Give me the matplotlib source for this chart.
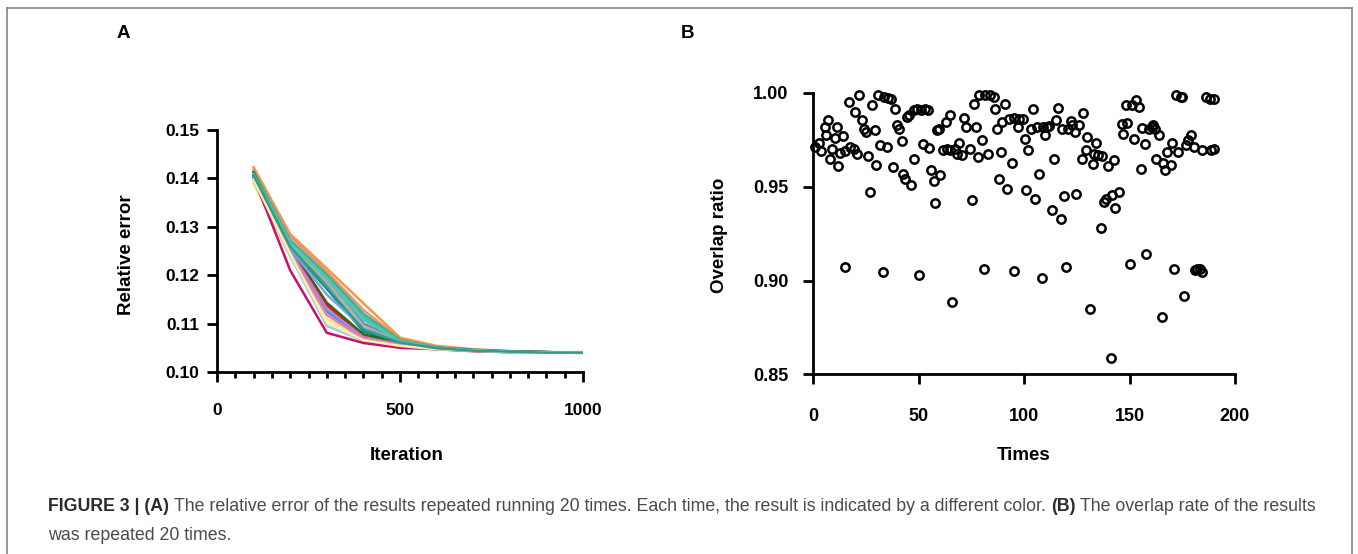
import matplotlib
matplotlib.use("Agg")
import matplotlib.pyplot as plt
from matplotlib.ticker import MultipleLocator, FormatStrFormatter
from matplotlib.lines import Line2D

plt.rcParams['font.family'] = ['Liberation Sans', 'DejaVu Sans']

# ---------------- Panel A data ----------------
iterations = [100, 200, 300, 400, 500, 600, 700, 800, 900, 1000]
run_01 = [0.1423, 0.1285, 0.1214, 0.1142, 0.1071, 0.1054, 0.1047, 0.1043, 0.1041, 0.1039]
run_02 = [0.1418, 0.1280, 0.1207, 0.1128, 0.1068, 0.1052, 0.1046, 0.1043, 0.1041, 0.1040]
run_03 = [0.1414, 0.1272, 0.1201, 0.1120, 0.1066, 0.1051, 0.1046, 0.1043, 0.1041, 0.1041]
run_04 = [0.1411, 0.1268, 0.1196, 0.1114, 0.1064, 0.1050, 0.1045, 0.1042, 0.1041, 0.1040]
run_05 = [0.1408, 0.1263, 0.1191, 0.1108, 0.1062, 0.1050, 0.1045, 0.1042, 0.1041, 0.1040]
run_06 = [0.1406, 0.1260, 0.1184, 0.1100, 0.1061, 0.1049, 0.1045, 0.1042, 0.1041, 0.1040]
run_07 = [0.1404, 0.1257, 0.1172, 0.1084, 0.1060, 0.1049, 0.1044, 0.1042, 0.1040, 0.1040]
run_08 = [0.1407, 0.1262, 0.1186, 0.1096, 0.1062, 0.1050, 0.1045, 0.1042, 0.1041, 0.1040]
run_09 = [0.1412, 0.1258, 0.1143, 0.1078, 0.1060, 0.1050, 0.1045, 0.1042, 0.1041, 0.1040]
run_10 = [0.1405, 0.1252, 0.1138, 0.1073, 0.1058, 0.1049, 0.1045, 0.1042, 0.1041, 0.1040]
run_11 = [0.1398, 0.1248, 0.1125, 0.1070, 0.1057, 0.1048, 0.1044, 0.1041, 0.1040, 0.1040]
run_12 = [0.1401, 0.1250, 0.1131, 0.1072, 0.1057, 0.1048, 0.1044, 0.1041, 0.1040, 0.1040]
run_13 = [0.1389, 0.1238, 0.1110, 0.1068, 0.1055, 0.1048, 0.1044, 0.1041, 0.1040, 0.1040]
run_14 = [0.1395, 0.1240, 0.1095, 0.1065, 0.1054, 0.1047, 0.1044, 0.1041, 0.1040, 0.1040]
run_15 = [0.1402, 0.1210, 0.1081, 0.1060, 0.1050, 0.1047, 0.1043, 0.1041, 0.1040, 0.1040]
run_16 = [0.1403, 0.1255, 0.1160, 0.1090, 0.1061, 0.1049, 0.1044, 0.1042, 0.1040, 0.1040]
run_17 = [0.1409, 0.1266, 0.1193, 0.1110, 0.1063, 0.1050, 0.1045, 0.1042, 0.1041, 0.1040]
run_18 = [0.1400, 0.1246, 0.1118, 0.1069, 0.1056, 0.1048, 0.1044, 0.1041, 0.1040, 0.1040]
run_19 = [0.1397, 0.1244, 0.1102, 0.1066, 0.1054, 0.1047, 0.1044, 0.1041, 0.1040, 0.1040]
run_20 = [0.1406, 0.1259, 0.1176, 0.1088, 0.1061, 0.1049, 0.1044, 0.1042, 0.1040, 0.1040]

runs = [run_01, run_02, run_03, run_04, run_05, run_06, run_07, run_08, run_09, run_10,
        run_11, run_12, run_13, run_14, run_15, run_16, run_17, run_18, run_19, run_20]
run_colors = ['#F39C3C', '#EE8A80', '#3CB371', '#3FC3A2', '#5B9BE6', '#3A86C8', '#1F7A8C',
              '#B9AE94', '#0A7D0A', '#E8101A', '#4A90E2', '#9B8FD6', '#F5E68A', '#A3C6F0',
              '#C8106A', '#6FA8DC', '#52C7B8', '#E87DB5', '#F7F0A8', '#2E9E8A']

# ---------------- Panel B data ----------------
times = [1.1, 3.0, 3.9, 5.5, 6.2, 7.1, 8.2, 9.0, 10.3, 11.4, 11.8, 13.0, 14.1, 15.0, 15.3,
         16.9, 17.7, 19.3, 20.1, 20.9, 22.0, 23.2, 24.2, 25.3, 26.1, 27.2, 28.0, 29.2, 29.9,
         30.8, 31.9, 33.0, 33.5, 35.1, 35.6, 37.1, 37.8, 38.7, 39.8, 40.9, 42.2, 42.5, 43.5,
         44.6, 45.7, 46.6, 47.7, 47.7, 49.3, 50.1, 51.4, 52.0, 53.3, 54.5, 54.9, 56.1, 57.2,
         58.0, 58.8, 59.9, 60.4, 61.5, 63.1, 63.6, 65.1, 65.1, 66.0, 67.2, 68.3, 69.1, 70.4,
         71.5, 72.6, 74.2, 75.4, 76.2, 77.3, 78.3, 78.6, 80.2, 80.9, 81.7, 83.0, 84.1, 85.7,
         86.2, 87.3, 88.1, 88.9, 89.6, 90.9, 92.0, 92.8, 94.1, 95.2, 95.2, 97.2, 97.6, 99.4,
         100.4, 101.0, 102.0, 103.1, 104.2, 105.1, 106.3, 107.0, 108.3, 108.9, 109.9, 111.0,
         111.8, 113.4, 114.2, 115.3, 116.1, 117.3, 118.1, 118.9, 120.0, 121.0, 122.1, 122.9,
         124.1, 124.8, 126.3, 127.3, 128.1, 129.2, 130.0, 131.1, 132.7, 133.1, 134.2, 135.2,
         136.3, 137.1, 137.9, 138.7, 139.9, 141.0, 141.8, 142.6, 143.1, 145.0, 146.3, 146.9,
         148.2, 148.9, 150.1, 151.3, 152.1, 152.9, 154.5, 155.3, 155.7, 157.3, 158.0, 159.2,
         160.5, 161.1, 162.1, 162.7, 164.0, 165.2, 165.9, 166.8, 167.9, 169.5, 170.3, 171.1,
         171.9, 173.1, 174.2, 175.0, 176.0, 176.6, 177.9, 179.0, 180.6, 181.0, 182.2, 183.3,
         184.5, 184.5, 186.1, 188.0, 188.5, 190.0, 190.0]
overlap = [0.9712, 0.9735, 0.9689, 0.9818, 0.9774, 0.9854, 0.9646, 0.9703, 0.9760, 0.9818,
           0.9611, 0.9682, 0.9771, 0.9689, 0.9070, 0.9952, 0.9712, 0.9700, 0.9899, 0.9677,
           0.9987, 0.9854, 0.9810, 0.9792, 0.9664, 0.9472, 0.9934, 0.9801, 0.9615, 0.9987,
           0.9724, 0.9046, 0.9978, 0.9712, 0.9973, 0.9966, 0.9606, 0.9913, 0.9827, 0.9810,
           0.9742, 0.9570, 0.9540, 0.9872, 0.9881, 0.9508, 0.9650, 0.9907, 0.9913, 0.9029,
           0.9907, 0.9730, 0.9913, 0.9907, 0.9707, 0.9588, 0.9529, 0.9416, 0.9801, 0.9810,
           0.9565, 0.9694, 0.9845, 0.9700, 0.9884, 0.9694, 0.8887, 0.9703, 0.9677, 0.9735,
           0.9671, 0.9867, 0.9818, 0.9703, 0.9428, 0.9943, 0.9818, 0.9659, 0.9991, 0.9747,
           0.9064, 0.9991, 0.9677, 0.9987, 0.9978, 0.9913, 0.9806, 0.9543, 0.9685, 0.9845,
           0.9943, 0.9487, 0.9863, 0.9629, 0.9050, 0.9867, 0.9818, 0.9863, 0.9863, 0.9753,
           0.9481, 0.9694, 0.9806, 0.9913, 0.9433, 0.9818, 0.9570, 0.9015, 0.9818, 0.9778,
           0.9818, 0.9824, 0.9375, 0.9650, 0.9854, 0.9920, 0.9327, 0.9806, 0.9451, 0.9073,
           0.9806, 0.9849, 0.9827, 0.9792, 0.9463, 0.9831, 0.9646, 0.9895, 0.9694, 0.9765,
           0.8848, 0.9623, 0.9677, 0.9735, 0.9668, 0.9281, 0.9664, 0.9419, 0.9437, 0.9611,
           0.8589, 0.9454, 0.9641, 0.9387, 0.9472, 0.9836, 0.9783, 0.9938, 0.9842, 0.9086,
           0.9938, 0.9756, 0.9961, 0.9925, 0.9597, 0.9813, 0.9730, 0.9144, 0.9810, 0.9818,
           0.9831, 0.9810, 0.9646, 0.9774, 0.8807, 0.9629, 0.9588, 0.9685, 0.9615, 0.9735,
           0.9061, 0.9991, 0.9685, 0.9978, 0.9978, 0.8919, 0.9724, 0.9747, 0.9774, 0.9712,
           0.9055, 0.9064, 0.9061, 0.9046, 0.9694, 0.9978, 0.9970, 0.9694, 0.9966, 0.9700]

# ---------------- Figure ----------------
W, H = 1358, 554
fig = plt.figure(figsize=(W / 100, H / 100), dpi=100)

def fx(px):
    return px / W

def fy(py):
    return 1 - py / H

SPINE_W = 2.0
TICK_FS_A = 12.5
TICK_FS_B = 13.0
LABEL_FS = 13.5

# Panel A
axA = fig.add_axes([fx(217), fy(372), fx(583) - fx(217), fy(130) - fy(372)])
for vals, col in zip(runs, run_colors):
    axA.plot(iterations, vals, color=col, lw=1.8, solid_joinstyle='miter')
axA.set_xlim(0, 1000)
axA.set_ylim(0.10, 0.15)
axA.xaxis.set_major_locator(MultipleLocator(500))
axA.xaxis.set_minor_locator(MultipleLocator(50))
axA.yaxis.set_major_locator(MultipleLocator(0.01))
axA.yaxis.set_major_formatter(FormatStrFormatter('%.2f'))
axA.tick_params(axis='both', which='major', length=7, width=SPINE_W, direction='out',
                labelsize=TICK_FS_A)
axA.tick_params(axis='x', which='minor', length=4.5, width=SPINE_W)
axA.tick_params(axis='x', which='major', pad=15)
axA.tick_params(axis='y', which='major', pad=6)
for lab in axA.get_xticklabels() + axA.get_yticklabels():
    lab.set_fontweight('bold')
axA.set_xlabel('Iteration', fontsize=LABEL_FS, fontweight='bold')
axA.set_ylabel('Relative error', fontsize=LABEL_FS, fontweight='bold')
axA.xaxis.label.set_va('center')
axA.yaxis.label.set_va('center')
axA.xaxis.set_label_coords(0.519, (372 - 455) / 242)
axA.yaxis.set_label_coords((127 - 217) / 366, 0.483)
for s in ['top', 'right']:
    axA.spines[s].set_visible(False)
for s in ['left', 'bottom']:
    axA.spines[s].set_linewidth(SPINE_W)

# Panel B
axB = fig.add_axes([fx(813), fy(374.3), fx(1235) - fx(813), fy(93) - fy(374.3)])
axB.plot(times, overlap, linestyle='none', marker='o', markersize=6.0,
         markerfacecolor='none', markeredgecolor='black', markeredgewidth=1.8,
         clip_on=False)
axB.set_xlim(0, 200)
axB.set_ylim(0.85, 1.00)
axB.xaxis.set_major_locator(MultipleLocator(50))
axB.yaxis.set_major_locator(MultipleLocator(0.05))
axB.yaxis.set_major_formatter(FormatStrFormatter('%.2f'))
axB.tick_params(axis='both', which='major', length=7.5, width=SPINE_W, direction='out',
                labelsize=TICK_FS_B)
axB.tick_params(axis='x', which='major', pad=17)
axB.tick_params(axis='y', which='major', pad=10)
for lab in axB.get_xticklabels() + axB.get_yticklabels():
    lab.set_fontweight('bold')
axB.set_xlabel('Times', fontsize=LABEL_FS, fontweight='bold')
axB.set_ylabel('Overlap ratio', fontsize=LABEL_FS, fontweight='bold')
axB.xaxis.label.set_va('center')
axB.yaxis.label.set_va('center')
axB.xaxis.set_label_coords(0.498, (374.3 - 455) / 281.3)
axB.yaxis.set_label_coords((719 - 813) / 422, 0.495)
for s in ['top', 'right']:
    axB.spines[s].set_visible(False)
for s in ['left', 'bottom']:
    axB.spines[s].set_linewidth(SPINE_W)

# Panel letters
fig.text(fx(123), fy(33), 'A', fontsize=13.5, fontweight='bold', ha='center', va='center')
fig.text(fx(688), fy(33), 'B', fontsize=13.5, fontweight='bold', ha='center', va='center')

# Figure border (left, top, right)
border_col = '#7a7a7a'
fig.add_artist(Line2D([fx(7), fx(7)], [0, fy(8)], color=border_col, lw=1.1))
fig.add_artist(Line2D([fx(7), fx(1352)], [fy(8), fy(8)], color=border_col, lw=1.1))
fig.add_artist(Line2D([fx(1352), fx(1352)], [0, fy(8)], color=border_col, lw=1.1))

# Caption with mixed weights
CAP_FS = 12.75
renderer = fig.canvas.get_renderer()

def seg_width(txt, weight):
    t = fig.text(0, 0, txt, fontsize=CAP_FS, fontweight=weight)
    w = t.get_window_extent(renderer).width
    t.remove()
    return w

space_w = seg_width('a a', 'normal') - seg_width('aa', 'normal')

def draw_line(x_px, y_px, segments):
    x = x_px
    for i, (txt, weight, col) in enumerate(segments):
        fig.text(fx(x), fy(y_px), txt, fontsize=CAP_FS, fontweight=weight, color=col,
                 ha='left', va='baseline')
        x += seg_width(txt, weight)
        if i < len(segments) - 1:
            x += space_w

dark = '#2b2b2b'
grey = '#4a4a4a'
draw_line(48, 511, [
    ('FIGURE 3 | (A)', 'bold', dark),
    ('The relative error of the results repeated running 20 times. Each time, the result is indicated by a different color.', 'normal', grey),
    ('(B)', 'bold', dark),
    ('The overlap rate of the results', 'normal', grey),
])
draw_line(48, 540, [('was repeated 20 times.', 'normal', grey)])

fig.savefig('out.png', dpi=100)
